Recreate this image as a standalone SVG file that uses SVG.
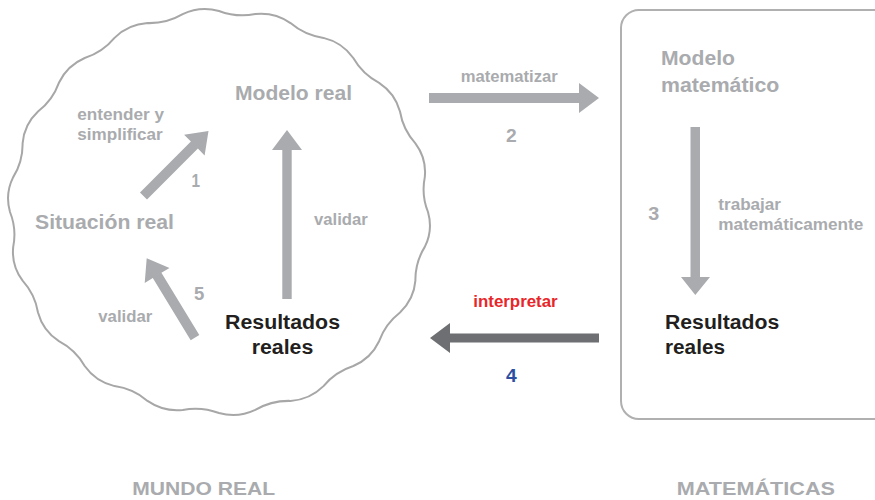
<svg xmlns="http://www.w3.org/2000/svg" width="875" height="500" viewBox="0 0 875 500">
<style>
text{font-family:"Liberation Sans",Arial,sans-serif;font-weight:bold;}
.lg{fill:#a9abae;}
.dk{fill:#231f20;}
.big{font-size:19.5px;}
.sm{font-size:16px;}
.num{font-size:18px;}
.foot{font-size:18px;fill:#a9abae;}
.arr{fill:#a9abae;}
.arrd{fill:#6d6f72;}
</style>
<rect width="875" height="500" fill="#ffffff"/>
<g id="mundo-real">
<path fill="none" stroke="#a7a7a7" stroke-width="2" d="M428,212 Q433.2,230.1 424.8,246.9 Q415.1,262.5 415.4,280.7 Q413.9,299.5 400,312.5 Q385.3,323.9 379.1,341.2 Q371,358.4 353.3,366 Q335.4,371.7 323.5,386.1 Q309.9,399.6 290.5,400.9 Q271.5,400.4 255.3,409.9 Q237.7,418.2 219,413 Q201.3,406.3 182.7,409.9 Q163.4,411.9 147.5,400.9 Q133.2,388.7 114.5,386.1 Q95.7,381.6 84.7,366 Q75.5,349.9 58.9,341.2 Q42.9,330.7 38,312.5 Q35,294.4 22.6,280.7 Q11.3,265.6 13.2,246.9 Q16.8,229 10,212 Q4.8,193.9 13.2,177.1 Q22.9,161.5 22.6,143.3 Q24.1,124.5 38,111.5 Q52.7,100.1 58.9,82.8 Q67,65.6 84.7,58 Q102.6,52.3 114.5,37.9 Q128.1,24.4 147.5,23.1 Q166.5,23.6 182.7,14.1 Q200.3,5.8 219,11 Q236.7,17.7 255.3,14.1 Q274.6,12.1 290.5,23.1 Q304.8,35.3 323.5,37.9 Q342.3,42.4 353.3,58 Q362.5,74.1 379.1,82.8 Q395.1,93.3 400,111.5 Q403,129.6 415.4,143.3 Q426.7,158.4 424.8,177.1 Q421.2,195 428,212 Z"/>
</g>
<g id="matematicas">
<rect x="621" y="10" width="270" height="409" rx="18" ry="18" fill="none" stroke="#b0b0b0" stroke-width="2"/>
</g>
<g id="connectors">
<polygon class="arr" points="140,192.5 190.9,141.6 184.1,134.8 208.5,131 204.6,155.4 197.9,148.6 147,199.5"/>
<polygon class="arr" points="282.3,299 282.3,150 272,150 287,130 302,150 291.7,150 291.7,299"/>
<polygon class="arr" points="190.7,340.3 152.8,278 144.7,282.9 146.7,258.3 169.5,267.9 161.4,272.8 199.3,335.1"/>
<polygon class="arr" points="429,93 579,93 579,83 599,98 579,113 579,103 429,103"/>
<polygon class="arr" points="690.5,127 700,127 700,277 710,277 695.3,295 681,277 690.5,277"/>
<polygon class="arrd" points="599,333.5 450,333.5 450,323 430,338 450,353 450,342.5 599,342.5"/>
</g>
<g id="node-modelo-real"><text class="lg big" x="235" y="100" textLength="117" lengthAdjust="spacingAndGlyphs">Modelo real</text></g>
<g id="node-situacion-real"><text class="lg big" x="35" y="228.5" textLength="139" lengthAdjust="spacingAndGlyphs">Situación real</text></g>
<g id="node-resultados-reales-1">
<text class="dk big" x="225" y="328.5" textLength="115" lengthAdjust="spacingAndGlyphs">Resultados</text>
<text class="dk big" x="251.7" y="353.5" textLength="61.6" lengthAdjust="spacingAndGlyphs">reales</text>
</g>
<g id="node-modelo-matematico">
<text class="lg big" x="661" y="65" textLength="74" lengthAdjust="spacingAndGlyphs">Modelo</text>
<text class="lg big" x="661" y="91.5" textLength="118.3" lengthAdjust="spacingAndGlyphs">matemático</text>
</g>
<g id="node-resultados-reales-2">
<text class="dk big" x="665" y="328.5" textLength="114.3" lengthAdjust="spacingAndGlyphs">Resultados</text>
<text class="dk big" x="665" y="354" textLength="60" lengthAdjust="spacingAndGlyphs">reales</text>
</g>
<g id="labels">
<text class="lg sm" x="77.3" y="120" textLength="86.7" lengthAdjust="spacingAndGlyphs">entender y</text>
<text class="lg sm" x="77.3" y="140" textLength="85.4" lengthAdjust="spacingAndGlyphs">simplificar</text>
<text class="lg num" x="191.5" y="187.3" textLength="8.5" lengthAdjust="spacingAndGlyphs">1</text>
<text class="lg sm" x="314" y="225" textLength="53.7" lengthAdjust="spacingAndGlyphs">validar</text>
<text class="lg num" x="194" y="300" textLength="10.3" lengthAdjust="spacingAndGlyphs">5</text>
<text class="lg sm" x="98.3" y="321.7" textLength="54" lengthAdjust="spacingAndGlyphs">validar</text>
<text class="lg sm" x="460.7" y="81.7" textLength="97" lengthAdjust="spacingAndGlyphs">matematizar</text>
<text class="lg num" x="506" y="141.7" textLength="10.7" lengthAdjust="spacingAndGlyphs">2</text>
<text class="lg num" x="648.3" y="220" textLength="11" lengthAdjust="spacingAndGlyphs">3</text>
<text class="lg sm" x="718.3" y="210" textLength="62.7" lengthAdjust="spacingAndGlyphs">trabajar</text>
<text class="lg sm" x="718.3" y="230" textLength="145" lengthAdjust="spacingAndGlyphs">matemáticamente</text>
<text class="sm" fill="#e8262a" x="473.3" y="306.7" textLength="84.4" lengthAdjust="spacingAndGlyphs">interpretar</text>
<text class="num" fill="#2b4fa2" x="506" y="381.7" textLength="10.7" lengthAdjust="spacingAndGlyphs">4</text>
<text class="foot" x="132.3" y="495" textLength="142.7" lengthAdjust="spacingAndGlyphs">MUNDO REAL</text>
<text class="foot" x="676.7" y="495" textLength="158.3" lengthAdjust="spacingAndGlyphs">MATEMÁTICAS</text>
</g>
</svg>
